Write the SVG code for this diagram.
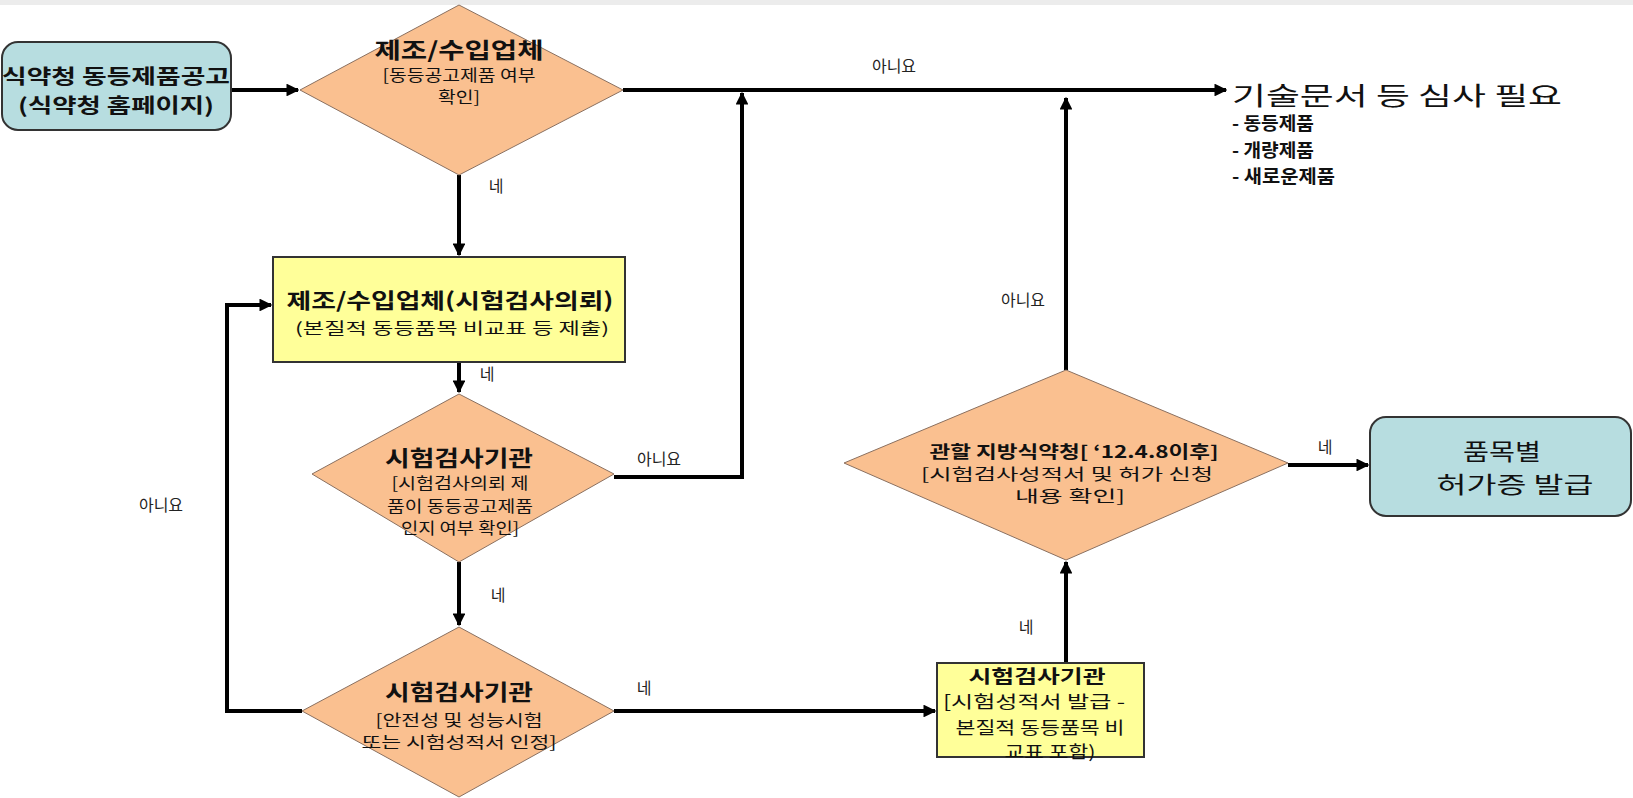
<svg xmlns="http://www.w3.org/2000/svg" width="1633" height="798" viewBox="0 0 1633 798">
<defs>
<marker id="ah" viewBox="0 0 10 10" refX="9" refY="5" markerWidth="3.2" markerHeight="3.2" orient="auto" markerUnits="strokeWidth">
<path d="M0,0 L10,5 L0,10 z" fill="#000"/>
</marker>
</defs>
<style>
.t{font-family:"Noto Sans CJK KR","Noto Sans",sans-serif;fill:#111;text-anchor:middle;dominant-baseline:central}
.s{text-anchor:start}
.b{font-weight:bold}
.lbl{font-family:"Noto Sans CJK KR","Noto Sans",sans-serif;fill:#222;font-size:16px;text-anchor:middle;dominant-baseline:central}
.dia{fill:#fac090;stroke:#8a7060;stroke-width:1}
.yel{fill:#ffff99;stroke:#333;stroke-width:2}
.blu{fill:#b7dde0;stroke:#333;stroke-width:2}
.ca{fill:none;stroke:#000;stroke-width:4;marker-end:url(#ah)}
</style>
<rect x="0" y="0" width="1633" height="798" fill="#fff"/>
<rect x="0" y="0" width="1633" height="5" fill="#ececec"/>

<g id="connectors">
<path class="ca" d="M231,90 H298"/>
<path class="ca" d="M623,90 H1226"/>
<path class="ca" d="M459,175 V255"/>
<path class="ca" d="M459,362 V392"/>
<path class="ca" d="M614,477 H742 V93"/>
<path class="ca" d="M459,562 V625"/>
<path class="ca" d="M302,711 H227 V305 H271"/>
<path class="ca" d="M614,711 H935"/>
<path class="ca" d="M1066,663 V562"/>
<path class="ca" d="M1066,370 V98"/>
<path class="ca" d="M1288,465 H1368"/>
<text class="lbl" x="894" y="65">아니요</text>
<text class="lbl" x="496" y="185">네</text>
<text class="lbl" x="487" y="373">네</text>
<text class="lbl" x="659" y="458">아니요</text>
<text class="lbl" x="498" y="594">네</text>
<text class="lbl" x="161" y="504">아니요</text>
<text class="lbl" x="644" y="687">네</text>
<text class="lbl" x="1026" y="626">네</text>
<text class="lbl" x="1023" y="299">아니요</text>
<text class="lbl" x="1325" y="446">네</text>
</g>

<g id="n-start">
<rect class="blu" x="2" y="42" width="229" height="88" rx="16"/>
<text class="t b" x="116" y="75" font-size="20" textLength="228" lengthAdjust="spacingAndGlyphs">식약청 동등제품공고</text>
<text class="t b" x="116" y="104" font-size="20" textLength="196" lengthAdjust="spacingAndGlyphs">(식약청 홈페이지)</text>
</g>

<g id="n-d1">
<polygon class="dia" points="300,90 459,5 623,90 459,175"/>
<text class="t b" x="459" y="48" font-size="22" textLength="169" lengthAdjust="spacingAndGlyphs">제조/수입업체</text>
<text class="t" x="459" y="74" font-size="16" textLength="153" lengthAdjust="spacingAndGlyphs">[동등공고제품 여부</text>
<text class="t" x="459" y="96" font-size="16" textLength="42" lengthAdjust="spacingAndGlyphs">확인]</text>
</g>

<g id="n-result">
<text class="t" x="1397" y="94" font-size="25" textLength="330" lengthAdjust="spacingAndGlyphs">기술문서 등 심사 필요</text>
<text class="t b s" x="1232" y="122" font-size="18" textLength="82" lengthAdjust="spacingAndGlyphs">- 동등제품</text>
<text class="t b s" x="1232" y="149" font-size="18" textLength="82" lengthAdjust="spacingAndGlyphs">- 개량제품</text>
<text class="t b s" x="1232" y="175" font-size="18" textLength="103" lengthAdjust="spacingAndGlyphs">- 새로운제품</text>
</g>

<g id="n-box1">
<rect class="yel" x="273" y="257" width="352" height="105"/>
<text class="t b" x="450" y="299" font-size="21" textLength="327" lengthAdjust="spacingAndGlyphs">제조/수입업체(시험검사의뢰)</text>
<text class="t" x="452" y="327" font-size="16" textLength="314" lengthAdjust="spacingAndGlyphs">(본질적 동등품목 비교표 등 제출)</text>
</g>

<g id="n-d2">
<polygon class="dia" points="312,474 459,394 614,474 459,562"/>
<text class="t b" x="459" y="456" font-size="22" textLength="148" lengthAdjust="spacingAndGlyphs">시험검사기관</text>
<text class="t" x="460" y="482" font-size="16" textLength="137" lengthAdjust="spacingAndGlyphs">[시험검사의뢰 제</text>
<text class="t" x="460" y="505" font-size="16" textLength="146" lengthAdjust="spacingAndGlyphs">품이 동등공고제품</text>
<text class="t" x="460" y="527" font-size="16" textLength="118" lengthAdjust="spacingAndGlyphs">인지 여부 확인]</text>
</g>

<g id="n-d3">
<polygon class="dia" points="302,711 459,627 614,711 459,797"/>
<text class="t b" x="459" y="690" font-size="22" textLength="148" lengthAdjust="spacingAndGlyphs">시험검사기관</text>
<text class="t" x="459" y="719" font-size="16" textLength="167" lengthAdjust="spacingAndGlyphs">[안전성 및 성능시험</text>
<text class="t" x="459" y="741" font-size="16" textLength="195" lengthAdjust="spacingAndGlyphs">또는 시험성적서 인정]</text>
</g>

<g id="n-box2">
<rect class="yel" x="937" y="663" width="207" height="94"/>
<text class="t b" x="1037" y="675" font-size="18" textLength="137" lengthAdjust="spacingAndGlyphs">시험검사기관</text>
<text class="t" x="1034" y="700" font-size="17" textLength="182" lengthAdjust="spacingAndGlyphs">[시험성적서 발급 -</text>
<text class="t" x="1040" y="726" font-size="17" textLength="169" lengthAdjust="spacingAndGlyphs">본질적 동등품목 비</text>
<text class="t" x="1050" y="750" font-size="17" textLength="91" lengthAdjust="spacingAndGlyphs">교표 포함)</text>
</g>

<g id="n-d4">
<polygon class="dia" points="844,463 1066,370 1288,463 1066,560"/>
<text class="t b" x="1074" y="450" font-size="17" textLength="289" lengthAdjust="spacingAndGlyphs">관할 지방식약청[ ‘12.4.8이후]</text>
<text class="t" x="1067" y="473" font-size="16" textLength="292" lengthAdjust="spacingAndGlyphs">[시험검사성적서  및 허가 신청</text>
<text class="t" x="1070" y="495" font-size="16" textLength="110" lengthAdjust="spacingAndGlyphs">내용 확인]</text>
</g>

<g id="n-end">
<rect class="blu" x="1370" y="417" width="261" height="99" rx="16"/>
<text class="t" x="1502" y="450" font-size="23" textLength="78" lengthAdjust="spacingAndGlyphs">품목별</text>
<text class="t" x="1515" y="483" font-size="23" textLength="157" lengthAdjust="spacingAndGlyphs">허가증 발급</text>
</g>
</svg>
